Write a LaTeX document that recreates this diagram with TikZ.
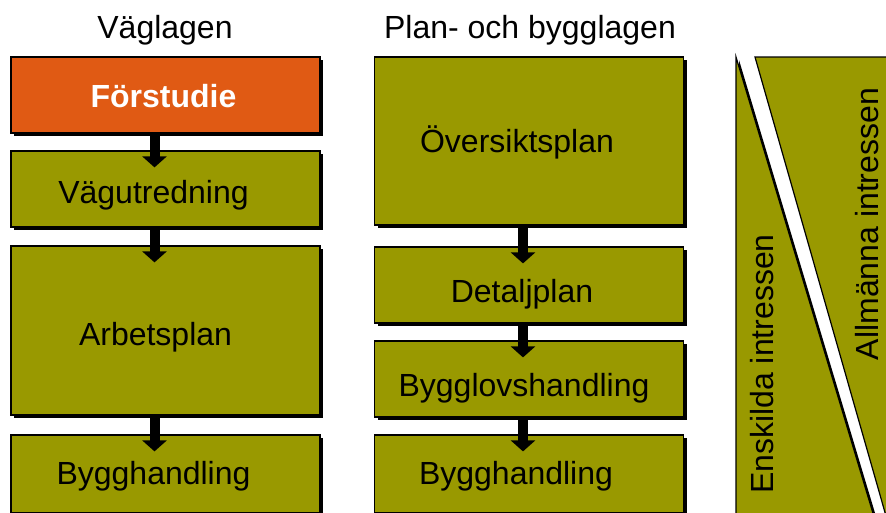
\documentclass[tikz,border=0pt]{standalone}
\usepackage{fontspec}
\setmainfont{Liberation Sans}
\usetikzlibrary{arrows.meta,calc,shadows}
\definecolor{olivebox}{HTML}{999900}
\definecolor{orangebox}{HTML}{E05A14}
\tikzset{
  stage/.style={draw=black,line width=1.2pt,fill=olivebox,minimum width=309pt,inner sep=0pt,
    drop shadow={shadow xshift=3pt,shadow yshift=-3pt,fill=black,opacity=1}},
  startstage/.style={stage,fill=orangebox},
  stagelabel/.style={font=\fontsize{32}{38}\selectfont},
  startlabel/.style={font=\fontsize{32}{38}\selectfont\bfseries,text=white},
  flow/.style={line width=10pt,-{Triangle[width=24pt,length=11pt]}},
  heading/.style={font=\fontsize{32}{38}\selectfont}
}

\begin{document}
\begin{tikzpicture}[x=1pt,y=-1pt]
    \useasboundingbox (0,0) rectangle (886,512);
    \clip (0,0) rectangle (886,512);

    % Headings
    \node[heading] (vl) at (165,30) {Väglagen};
    \node[heading] (pbl) at (530,30) {Plan- och bygglagen};

    % Väglagen column
    \node[startstage,minimum height=76pt,label={[startlabel,xshift=-2pt,yshift=-1pt]center:Förstudie}] (fo) at (165.5,95) {};
    \node[stage,minimum height=76pt,label={[stagelabel,xshift=-12pt,yshift=-6pt]center:Vägutredning}] (vu) at (165.5,189) {};
    \node[stage,minimum height=169pt,label={[stagelabel,xshift=-10pt,yshift=-7pt]center:Arbetsplan}] (ap) at (165.5,330.5) {};
    \node[stage,minimum height=78pt,label={[stagelabel,xshift=-12pt,yshift=-2pt]center:Bygghandling}] (bh) at (165.5,474) {};

    % Plan- och bygglagen column
    \node[stage,minimum height=168pt,label={[stagelabel,xshift=-12pt,yshift=-1pt]center:Översiktsplan}] (os) at (529,141) {};
    \node[stage,minimum height=76pt,label={[stagelabel,xshift=-7pt,yshift=-9pt]center:Detaljplan}] (dp) at (529,285) {};
    \node[stage,minimum height=76pt,label={[stagelabel,xshift=-5pt,yshift=-9pt]center:Bygglovshandling}] (bl) at (529,379) {};
    \node[stage,minimum height=78pt,label={[stagelabel,xshift=-13pt,yshift=-2pt]center:Bygghandling}] (bh2) at (529,474) {};

    % Arrows between the stages
    \draw[flow] ($(fo.south)+(-11,0)$) -- ($(vu.north)+(-11,17)$);
    \draw[flow] ($(vu.south)+(-11,0)$) -- ($(ap.north)+(-11,17)$);
    \draw[flow] ($(ap.south)+(-11,0)$) -- ($(bh.north)+(-11,17)$);
    \draw[flow] ($(os.south)+(-6,0)$) -- ($(dp.north)+(-6,17)$);
    \draw[flow] ($(dp.south)+(-6,0)$) -- ($(bl.north)+(-6,17)$);
    \draw[flow] ($(bl.south)+(-6,0)$) -- ($(bh2.north)+(-6,17)$);

    % Interests, split by a diagonal band
    \draw[line width=1.2pt,fill=olivebox,drop shadow={shadow xshift=3pt,shadow yshift=-3pt,fill=black,opacity=1}]
      (736,57) -- (878,530) -- (736,530) -- cycle;
    \draw[line width=1.2pt,fill=olivebox] (755,57) -- (920,57) -- (920,530) -- (890,530) -- cycle;
    \node[heading,rotate=90] (ei) at (762,364) {Enskilda intressen};
    \node[heading,rotate=90] (ai) at (867,224) {Allmänna intressen};
\end{tikzpicture}
\end{document}
